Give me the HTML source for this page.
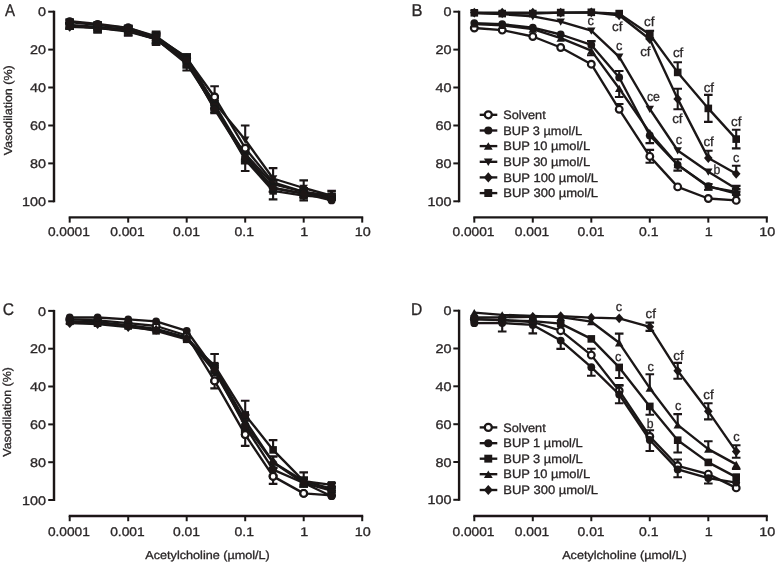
<!DOCTYPE html>
<html><head><meta charset="utf-8"><title>Figure</title>
<style>
html,body{margin:0;padding:0;background:#fff;}
body{width:777px;height:565px;overflow:hidden;font-family:"Liberation Sans",sans-serif;}
svg{display:block;}
svg{text-rendering:geometricPrecision;}
svg text{font-family:"Liberation Sans",sans-serif;fill:#2a2627;stroke:#2a2627;stroke-width:0.3px;}
</style></head><body>
<svg width="777" height="565" viewBox="0 0 777 565">
<defs><filter id="soft" x="0" y="0" width="777" height="565" filterUnits="userSpaceOnUse"><feGaussianBlur stdDeviation="0.55"/></filter></defs>
<rect width="777" height="565" fill="#fff"/>
<g filter="url(#soft)">
<path d="M54.0 10.7V202.3" stroke="#1a1718" stroke-width="2.4" fill="none"/>
<path d="M48.2 11.7H54.0" stroke="#1a1718" stroke-width="2" fill="none"/>
<text x="46.0" y="16.3" text-anchor="end" font-size="12.5" textLength="8.0" lengthAdjust="spacingAndGlyphs">0</text>
<path d="M48.2 49.6H54.0" stroke="#1a1718" stroke-width="2" fill="none"/>
<text x="46.0" y="54.2" text-anchor="end" font-size="12.5" textLength="16.0" lengthAdjust="spacingAndGlyphs">20</text>
<path d="M48.2 87.5H54.0" stroke="#1a1718" stroke-width="2" fill="none"/>
<text x="46.0" y="92.1" text-anchor="end" font-size="12.5" textLength="16.0" lengthAdjust="spacingAndGlyphs">40</text>
<path d="M48.2 125.5H54.0" stroke="#1a1718" stroke-width="2" fill="none"/>
<text x="46.0" y="130.1" text-anchor="end" font-size="12.5" textLength="16.0" lengthAdjust="spacingAndGlyphs">60</text>
<path d="M48.2 163.4H54.0" stroke="#1a1718" stroke-width="2" fill="none"/>
<text x="46.0" y="168.0" text-anchor="end" font-size="12.5" textLength="16.0" lengthAdjust="spacingAndGlyphs">80</text>
<path d="M48.2 201.3H54.0" stroke="#1a1718" stroke-width="2" fill="none"/>
<text x="46.0" y="205.9" text-anchor="end" font-size="12.5" textLength="24.0" lengthAdjust="spacingAndGlyphs">100</text>
<path d="M68.7 217.4H363.2" stroke="#1a1718" stroke-width="2.4" fill="none"/>
<path d="M69.7 217.4V222.6" stroke="#1a1718" stroke-width="2" fill="none"/>
<text x="68.9" y="235.9" text-anchor="middle" font-size="12.5" textLength="42.0" lengthAdjust="spacingAndGlyphs">0.0001</text>
<path d="M128.2 217.4V222.6" stroke="#1a1718" stroke-width="2" fill="none"/>
<text x="127.4" y="235.9" text-anchor="middle" font-size="12.5" textLength="34.5" lengthAdjust="spacingAndGlyphs">0.001</text>
<path d="M186.7 217.4V222.6" stroke="#1a1718" stroke-width="2" fill="none"/>
<text x="186.5" y="235.9" text-anchor="middle" font-size="12.5" textLength="27.0" lengthAdjust="spacingAndGlyphs">0.01</text>
<path d="M245.2 217.4V222.6" stroke="#1a1718" stroke-width="2" fill="none"/>
<text x="244.2" y="235.9" text-anchor="middle" font-size="12.5" textLength="19.5" lengthAdjust="spacingAndGlyphs">0.1</text>
<path d="M303.7 217.4V222.6" stroke="#1a1718" stroke-width="2" fill="none"/>
<text x="304.2" y="235.9" text-anchor="middle" font-size="12.5" textLength="8.0" lengthAdjust="spacingAndGlyphs">1</text>
<path d="M362.2 217.4V222.6" stroke="#1a1718" stroke-width="2" fill="none"/>
<text x="362.7" y="235.9" text-anchor="middle" font-size="12.5" textLength="16.0" lengthAdjust="spacingAndGlyphs">10</text>
<path d="M69.7 20.2V24.0M65.4 20.2H74.0M65.4 24.0H74.0" stroke="#1a1718" stroke-width="2.1" fill="none"/>
<path d="M97.6 23.1V26.9M93.3 23.1H101.9M93.3 26.9H101.9" stroke="#1a1718" stroke-width="2.1" fill="none"/>
<path d="M128.2 25.9V29.7M123.9 25.9H132.5M123.9 29.7H132.5" stroke="#1a1718" stroke-width="2.1" fill="none"/>
<path d="M156.1 32.6V40.1M151.8 32.6H160.4M151.8 40.1H160.4" stroke="#1a1718" stroke-width="2.1" fill="none"/>
<path d="M186.7 54.4V61.9M182.4 54.4H191.0M182.4 61.9H191.0" stroke="#1a1718" stroke-width="2.1" fill="none"/>
<path d="M214.6 86.2V97.0M210.3 86.2H218.9" stroke="#1a1718" stroke-width="2.1" fill="none"/>
<polyline points="69.7,22.1 97.6,25.0 128.2,27.8 156.1,36.3 186.7,58.2 214.6,97.0 245.2,148.2 273.1,182.3 303.7,191.8 331.6,197.5" fill="none" stroke="#1a1718" stroke-width="2.35" stroke-linejoin="round"/>
<circle cx="69.7" cy="22.1" r="3.38" fill="#fff" stroke="#1a1718" stroke-width="2.15"/>
<circle cx="97.6" cy="25.0" r="3.38" fill="#fff" stroke="#1a1718" stroke-width="2.15"/>
<circle cx="128.2" cy="27.8" r="3.38" fill="#fff" stroke="#1a1718" stroke-width="2.15"/>
<circle cx="156.1" cy="36.3" r="3.38" fill="#fff" stroke="#1a1718" stroke-width="2.15"/>
<circle cx="186.7" cy="58.2" r="3.38" fill="#fff" stroke="#1a1718" stroke-width="2.15"/>
<circle cx="214.6" cy="97.0" r="3.38" fill="#fff" stroke="#1a1718" stroke-width="2.15"/>
<circle cx="245.2" cy="148.2" r="3.38" fill="#fff" stroke="#1a1718" stroke-width="2.15"/>
<circle cx="273.1" cy="182.3" r="3.38" fill="#fff" stroke="#1a1718" stroke-width="2.15"/>
<circle cx="303.7" cy="191.8" r="3.38" fill="#fff" stroke="#1a1718" stroke-width="2.15"/>
<circle cx="331.6" cy="197.5" r="3.38" fill="#fff" stroke="#1a1718" stroke-width="2.15"/>
<path d="M69.7 23.1V28.8M65.4 23.1H74.0M65.4 28.8H74.0" stroke="#1a1718" stroke-width="2.1" fill="none"/>
<path d="M97.6 24.0V31.6M93.3 24.0H101.9M93.3 31.6H101.9" stroke="#1a1718" stroke-width="2.1" fill="none"/>
<path d="M128.2 27.8V35.4M123.9 27.8H132.5M123.9 35.4H132.5" stroke="#1a1718" stroke-width="2.1" fill="none"/>
<path d="M156.1 34.5V43.9M151.8 34.5H160.4M151.8 43.9H160.4" stroke="#1a1718" stroke-width="2.1" fill="none"/>
<path d="M186.7 56.3V67.6M182.4 56.3H191.0M182.4 67.6H191.0" stroke="#1a1718" stroke-width="2.1" fill="none"/>
<path d="M214.6 97.0V108.4M210.3 97.0H218.9M210.3 108.4H218.9" stroke="#1a1718" stroke-width="2.1" fill="none"/>
<path d="M245.2 125.5V139.7M240.9 125.5H249.5" stroke="#1a1718" stroke-width="2.1" fill="none"/>
<path d="M273.1 168.1V178.5M268.8 168.1H277.4" stroke="#1a1718" stroke-width="2.1" fill="none"/>
<path d="M303.7 180.4V188.0M299.4 180.4H308.0" stroke="#1a1718" stroke-width="2.1" fill="none"/>
<path d="M331.6 190.9V195.6M327.3 190.9H335.9" stroke="#1a1718" stroke-width="2.1" fill="none"/>
<polyline points="69.7,25.9 97.6,27.8 128.2,31.6 156.1,39.2 186.7,61.9 214.6,102.7 245.2,139.7 273.1,178.5 303.7,188.0 331.6,195.6" fill="none" stroke="#1a1718" stroke-width="2.35" stroke-linejoin="round"/>
<path d="M69.7 30.0L73.9 22.7L65.5 22.7Z" fill="#1a1718"/>
<path d="M97.6 31.9L101.8 24.6L93.4 24.6Z" fill="#1a1718"/>
<path d="M128.2 35.7L132.4 28.4L124.0 28.4Z" fill="#1a1718"/>
<path d="M156.1 43.3L160.3 36.0L151.9 36.0Z" fill="#1a1718"/>
<path d="M186.7 66.0L190.9 58.7L182.5 58.7Z" fill="#1a1718"/>
<path d="M214.6 106.8L218.8 99.5L210.4 99.5Z" fill="#1a1718"/>
<path d="M245.2 143.8L249.4 136.5L241.0 136.5Z" fill="#1a1718"/>
<path d="M273.1 182.6L277.3 175.3L268.9 175.3Z" fill="#1a1718"/>
<path d="M303.7 192.1L307.9 184.8L299.5 184.8Z" fill="#1a1718"/>
<path d="M331.6 199.7L335.8 192.4L327.4 192.4Z" fill="#1a1718"/>
<path d="M69.7 23.1V26.9M65.4 23.1H74.0M65.4 26.9H74.0" stroke="#1a1718" stroke-width="2.1" fill="none"/>
<path d="M97.6 24.0V29.7M93.3 24.0H101.9M93.3 29.7H101.9" stroke="#1a1718" stroke-width="2.1" fill="none"/>
<path d="M128.2 26.9V32.6M123.9 26.9H132.5M123.9 32.6H132.5" stroke="#1a1718" stroke-width="2.1" fill="none"/>
<path d="M156.1 31.6V43.0M151.8 31.6H160.4M151.8 43.0H160.4" stroke="#1a1718" stroke-width="2.1" fill="none"/>
<path d="M186.7 54.4V60.0M182.4 54.4H191.0M182.4 60.0H191.0" stroke="#1a1718" stroke-width="2.1" fill="none"/>
<path d="M214.6 100.8V108.4M210.3 100.8H218.9M210.3 108.4H218.9" stroke="#1a1718" stroke-width="2.1" fill="none"/>
<path d="M245.2 150.1V161.5M240.9 150.1H249.5M240.9 161.5H249.5" stroke="#1a1718" stroke-width="2.1" fill="none"/>
<path d="M273.1 184.2V191.8M268.8 184.2H277.4M268.8 191.8H277.4" stroke="#1a1718" stroke-width="2.1" fill="none"/>
<path d="M303.7 189.9V197.5M299.4 189.9H308.0M299.4 197.5H308.0" stroke="#1a1718" stroke-width="2.1" fill="none"/>
<path d="M331.6 195.6V199.4M327.3 195.6H335.9M327.3 199.4H335.9" stroke="#1a1718" stroke-width="2.1" fill="none"/>
<polyline points="69.7,25.0 97.6,26.9 128.2,29.7 156.1,37.3 186.7,57.2 214.6,104.6 245.2,155.8 273.1,188.0 303.7,193.7 331.6,197.5" fill="none" stroke="#1a1718" stroke-width="2.35" stroke-linejoin="round"/>
<path d="M69.7 21.3L73.9 28.6L65.5 28.6Z" fill="#1a1718"/>
<path d="M97.6 23.2L101.8 30.5L93.4 30.5Z" fill="#1a1718"/>
<path d="M128.2 26.0L132.4 33.3L124.0 33.3Z" fill="#1a1718"/>
<path d="M156.1 33.6L160.3 40.9L151.9 40.9Z" fill="#1a1718"/>
<path d="M186.7 53.5L190.9 60.8L182.5 60.8Z" fill="#1a1718"/>
<path d="M214.6 100.9L218.8 108.2L210.4 108.2Z" fill="#1a1718"/>
<path d="M245.2 152.1L249.4 159.4L241.0 159.4Z" fill="#1a1718"/>
<path d="M273.1 184.3L277.3 191.6L268.9 191.6Z" fill="#1a1718"/>
<path d="M303.7 190.0L307.9 197.3L299.5 197.3Z" fill="#1a1718"/>
<path d="M331.6 193.8L335.8 201.1L327.4 201.1Z" fill="#1a1718"/>
<path d="M69.7 25.0V28.8M65.4 25.0H74.0M65.4 28.8H74.0" stroke="#1a1718" stroke-width="2.1" fill="none"/>
<path d="M97.6 25.9V29.7M93.3 25.9H101.9M93.3 29.7H101.9" stroke="#1a1718" stroke-width="2.1" fill="none"/>
<path d="M128.2 28.8V32.6M123.9 28.8H132.5M123.9 32.6H132.5" stroke="#1a1718" stroke-width="2.1" fill="none"/>
<path d="M156.1 35.4V43.0M151.8 35.4H160.4M151.8 43.0H160.4" stroke="#1a1718" stroke-width="2.1" fill="none"/>
<path d="M186.7 58.2V65.7M182.4 58.2H191.0M182.4 65.7H191.0" stroke="#1a1718" stroke-width="2.1" fill="none"/>
<path d="M214.6 104.6V112.2M210.3 104.6H218.9M210.3 112.2H218.9" stroke="#1a1718" stroke-width="2.1" fill="none"/>
<path d="M245.2 148.2V159.6M240.9 148.2H249.5M240.9 159.6H249.5" stroke="#1a1718" stroke-width="2.1" fill="none"/>
<path d="M273.1 180.4V188.0M268.8 180.4H277.4M268.8 188.0H277.4" stroke="#1a1718" stroke-width="2.1" fill="none"/>
<path d="M303.7 188.0V195.6M299.4 188.0H308.0M299.4 195.6H308.0" stroke="#1a1718" stroke-width="2.1" fill="none"/>
<path d="M331.6 193.7V197.5M327.3 193.7H335.9M327.3 197.5H335.9" stroke="#1a1718" stroke-width="2.1" fill="none"/>
<polyline points="69.7,26.9 97.6,27.8 128.2,30.7 156.1,39.2 186.7,61.9 214.6,108.4 245.2,153.9 273.1,184.2 303.7,191.8 331.6,195.6" fill="none" stroke="#1a1718" stroke-width="2.35" stroke-linejoin="round"/>
<path d="M69.7 22.0L74.0 26.9L69.7 31.8L65.4 26.9Z" fill="#1a1718"/>
<path d="M97.6 22.9L101.9 27.8L97.6 32.7L93.3 27.8Z" fill="#1a1718"/>
<path d="M128.2 25.8L132.5 30.7L128.2 35.6L123.9 30.7Z" fill="#1a1718"/>
<path d="M156.1 34.3L160.4 39.2L156.1 44.1L151.8 39.2Z" fill="#1a1718"/>
<path d="M186.7 57.0L191.0 61.9L186.7 66.8L182.4 61.9Z" fill="#1a1718"/>
<path d="M214.6 103.5L218.9 108.4L214.6 113.3L210.3 108.4Z" fill="#1a1718"/>
<path d="M245.2 149.0L249.5 153.9L245.2 158.8L240.9 153.9Z" fill="#1a1718"/>
<path d="M273.1 179.3L277.4 184.2L273.1 189.1L268.8 184.2Z" fill="#1a1718"/>
<path d="M303.7 186.9L308.0 191.8L303.7 196.7L299.4 191.8Z" fill="#1a1718"/>
<path d="M331.6 190.7L335.9 195.6L331.6 200.5L327.3 195.6Z" fill="#1a1718"/>
<path d="M69.7 23.1V28.8M65.4 23.1H74.0M65.4 28.8H74.0" stroke="#1a1718" stroke-width="2.1" fill="none"/>
<path d="M97.6 23.1V32.6M93.3 23.1H101.9M93.3 32.6H101.9" stroke="#1a1718" stroke-width="2.1" fill="none"/>
<path d="M128.2 25.9V35.4M123.9 25.9H132.5M123.9 35.4H132.5" stroke="#1a1718" stroke-width="2.1" fill="none"/>
<path d="M156.1 33.5V44.9M151.8 33.5H160.4M151.8 44.9H160.4" stroke="#1a1718" stroke-width="2.1" fill="none"/>
<path d="M186.7 57.2V70.5M182.4 57.2H191.0M182.4 70.5H191.0" stroke="#1a1718" stroke-width="2.1" fill="none"/>
<path d="M214.6 102.7V110.3M210.3 102.7H218.9M210.3 110.3H218.9" stroke="#1a1718" stroke-width="2.1" fill="none"/>
<path d="M245.2 159.6V171.0M240.9 171.0H249.5" stroke="#1a1718" stroke-width="2.1" fill="none"/>
<path d="M273.1 190.9V199.4M268.8 199.4H277.4" stroke="#1a1718" stroke-width="2.1" fill="none"/>
<path d="M303.7 195.6V200.4M299.4 200.4H308.0" stroke="#1a1718" stroke-width="2.1" fill="none"/>
<path d="M331.6 195.6V199.4M327.3 195.6H335.9M327.3 199.4H335.9" stroke="#1a1718" stroke-width="2.1" fill="none"/>
<polyline points="69.7,25.9 97.6,27.8 128.2,30.7 156.1,39.2 186.7,63.8 214.6,106.5 245.2,159.6 273.1,190.9 303.7,195.6 331.6,197.5" fill="none" stroke="#1a1718" stroke-width="2.35" stroke-linejoin="round"/>
<rect x="65.9" y="22.1" width="7.6" height="7.6" fill="#1a1718"/>
<rect x="93.8" y="24.0" width="7.6" height="7.6" fill="#1a1718"/>
<rect x="124.4" y="26.9" width="7.6" height="7.6" fill="#1a1718"/>
<rect x="152.3" y="35.4" width="7.6" height="7.6" fill="#1a1718"/>
<rect x="182.9" y="60.0" width="7.6" height="7.6" fill="#1a1718"/>
<rect x="210.8" y="102.7" width="7.6" height="7.6" fill="#1a1718"/>
<rect x="241.4" y="155.8" width="7.6" height="7.6" fill="#1a1718"/>
<rect x="269.3" y="187.1" width="7.6" height="7.6" fill="#1a1718"/>
<rect x="299.9" y="191.8" width="7.6" height="7.6" fill="#1a1718"/>
<rect x="327.8" y="193.7" width="7.6" height="7.6" fill="#1a1718"/>
<path d="M69.7 19.3V23.1M65.4 19.3H74.0M65.4 23.1H74.0" stroke="#1a1718" stroke-width="2.1" fill="none"/>
<path d="M97.6 22.1V25.9M93.3 22.1H101.9M93.3 25.9H101.9" stroke="#1a1718" stroke-width="2.1" fill="none"/>
<path d="M128.2 25.9V29.7M123.9 25.9H132.5M123.9 29.7H132.5" stroke="#1a1718" stroke-width="2.1" fill="none"/>
<path d="M156.1 33.5V41.1M151.8 33.5H160.4M151.8 41.1H160.4" stroke="#1a1718" stroke-width="2.1" fill="none"/>
<path d="M186.7 56.3V63.8M182.4 56.3H191.0M182.4 63.8H191.0" stroke="#1a1718" stroke-width="2.1" fill="none"/>
<path d="M214.6 105.6V113.1M210.3 105.6H218.9M210.3 113.1H218.9" stroke="#1a1718" stroke-width="2.1" fill="none"/>
<path d="M245.2 152.0V163.4M240.9 152.0H249.5M240.9 163.4H249.5" stroke="#1a1718" stroke-width="2.1" fill="none"/>
<path d="M273.1 184.2V191.8M268.8 184.2H277.4M268.8 191.8H277.4" stroke="#1a1718" stroke-width="2.1" fill="none"/>
<path d="M303.7 189.9V197.5M299.4 189.9H308.0M299.4 197.5H308.0" stroke="#1a1718" stroke-width="2.1" fill="none"/>
<polyline points="69.7,21.2 97.6,24.0 128.2,27.8 156.1,37.3 186.7,60.0 214.6,109.3 245.2,157.7 273.1,188.0 303.7,193.7 331.6,200.4" fill="none" stroke="#1a1718" stroke-width="2.35" stroke-linejoin="round"/>
<circle cx="69.7" cy="21.2" r="3.90" fill="#1a1718"/>
<circle cx="97.6" cy="24.0" r="3.90" fill="#1a1718"/>
<circle cx="128.2" cy="27.8" r="3.90" fill="#1a1718"/>
<circle cx="156.1" cy="37.3" r="3.90" fill="#1a1718"/>
<circle cx="186.7" cy="60.0" r="3.90" fill="#1a1718"/>
<circle cx="214.6" cy="109.3" r="3.90" fill="#1a1718"/>
<circle cx="245.2" cy="157.7" r="3.90" fill="#1a1718"/>
<circle cx="273.1" cy="188.0" r="3.90" fill="#1a1718"/>
<circle cx="303.7" cy="193.7" r="3.90" fill="#1a1718"/>
<circle cx="331.6" cy="200.4" r="3.90" fill="#1a1718"/>
<circle cx="214.6" cy="97.0" r="3.38" fill="#fff" stroke="#1a1718" stroke-width="2.15"/>
<circle cx="245.2" cy="148.2" r="3.38" fill="#fff" stroke="#1a1718" stroke-width="2.15"/>
<path d="M459.1 10.7V202.3" stroke="#1a1718" stroke-width="2.4" fill="none"/>
<path d="M453.3 11.7H459.1" stroke="#1a1718" stroke-width="2" fill="none"/>
<text x="451.4" y="16.3" text-anchor="end" font-size="12.5" textLength="8.0" lengthAdjust="spacingAndGlyphs">0</text>
<path d="M453.3 49.6H459.1" stroke="#1a1718" stroke-width="2" fill="none"/>
<text x="451.4" y="54.2" text-anchor="end" font-size="12.5" textLength="16.0" lengthAdjust="spacingAndGlyphs">20</text>
<path d="M453.3 87.5H459.1" stroke="#1a1718" stroke-width="2" fill="none"/>
<text x="451.4" y="92.1" text-anchor="end" font-size="12.5" textLength="16.0" lengthAdjust="spacingAndGlyphs">40</text>
<path d="M453.3 125.5H459.1" stroke="#1a1718" stroke-width="2" fill="none"/>
<text x="451.4" y="130.1" text-anchor="end" font-size="12.5" textLength="16.0" lengthAdjust="spacingAndGlyphs">60</text>
<path d="M453.3 163.4H459.1" stroke="#1a1718" stroke-width="2" fill="none"/>
<text x="451.4" y="168.0" text-anchor="end" font-size="12.5" textLength="16.0" lengthAdjust="spacingAndGlyphs">80</text>
<path d="M453.3 201.3H459.1" stroke="#1a1718" stroke-width="2" fill="none"/>
<text x="451.4" y="205.9" text-anchor="end" font-size="12.5" textLength="24.0" lengthAdjust="spacingAndGlyphs">100</text>
<path d="M473.3 217.4H767.8" stroke="#1a1718" stroke-width="2.4" fill="none"/>
<path d="M474.3 217.4V222.6" stroke="#1a1718" stroke-width="2" fill="none"/>
<text x="473.5" y="235.9" text-anchor="middle" font-size="12.5" textLength="42.0" lengthAdjust="spacingAndGlyphs">0.0001</text>
<path d="M532.8 217.4V222.6" stroke="#1a1718" stroke-width="2" fill="none"/>
<text x="532.0" y="235.9" text-anchor="middle" font-size="12.5" textLength="34.5" lengthAdjust="spacingAndGlyphs">0.001</text>
<path d="M591.3 217.4V222.6" stroke="#1a1718" stroke-width="2" fill="none"/>
<text x="591.1" y="235.9" text-anchor="middle" font-size="12.5" textLength="27.0" lengthAdjust="spacingAndGlyphs">0.01</text>
<path d="M649.8 217.4V222.6" stroke="#1a1718" stroke-width="2" fill="none"/>
<text x="648.8" y="235.9" text-anchor="middle" font-size="12.5" textLength="19.5" lengthAdjust="spacingAndGlyphs">0.1</text>
<path d="M708.3 217.4V222.6" stroke="#1a1718" stroke-width="2" fill="none"/>
<text x="708.8" y="235.9" text-anchor="middle" font-size="12.5" textLength="8.0" lengthAdjust="spacingAndGlyphs">1</text>
<path d="M766.8 217.4V222.6" stroke="#1a1718" stroke-width="2" fill="none"/>
<text x="767.3" y="235.9" text-anchor="middle" font-size="12.5" textLength="16.0" lengthAdjust="spacingAndGlyphs">10</text>
<path d="M619.2 104.0V109.3M614.9 104.0H623.5" stroke="#1a1718" stroke-width="2.1" fill="none"/>
<path d="M649.8 149.9V162.8M645.5 149.9H654.1M645.5 162.8H654.1" stroke="#1a1718" stroke-width="2.1" fill="none"/>
<polyline points="474.3,28.0 502.2,30.1 532.8,36.5 560.7,47.5 591.3,64.2 619.2,109.3 649.8,156.4 677.7,186.9 708.3,198.5 736.2,200.4" fill="none" stroke="#1a1718" stroke-width="2.35" stroke-linejoin="round"/>
<circle cx="474.3" cy="28.0" r="3.38" fill="#fff" stroke="#1a1718" stroke-width="2.15"/>
<circle cx="502.2" cy="30.1" r="3.38" fill="#fff" stroke="#1a1718" stroke-width="2.15"/>
<circle cx="532.8" cy="36.5" r="3.38" fill="#fff" stroke="#1a1718" stroke-width="2.15"/>
<circle cx="560.7" cy="47.5" r="3.38" fill="#fff" stroke="#1a1718" stroke-width="2.15"/>
<circle cx="591.3" cy="64.2" r="3.38" fill="#fff" stroke="#1a1718" stroke-width="2.15"/>
<circle cx="619.2" cy="109.3" r="3.38" fill="#fff" stroke="#1a1718" stroke-width="2.15"/>
<circle cx="649.8" cy="156.4" r="3.38" fill="#fff" stroke="#1a1718" stroke-width="2.15"/>
<circle cx="677.7" cy="186.9" r="3.38" fill="#fff" stroke="#1a1718" stroke-width="2.15"/>
<circle cx="708.3" cy="198.5" r="3.38" fill="#fff" stroke="#1a1718" stroke-width="2.15"/>
<circle cx="736.2" cy="200.4" r="3.38" fill="#fff" stroke="#1a1718" stroke-width="2.15"/>
<path d="M591.3 41.1V44.9M587.0 41.1H595.6" stroke="#1a1718" stroke-width="2.1" fill="none"/>
<path d="M619.2 71.0V77.5M614.9 71.0H623.5" stroke="#1a1718" stroke-width="2.1" fill="none"/>
<path d="M649.8 135.5V143.1M645.5 143.1H654.1" stroke="#1a1718" stroke-width="2.1" fill="none"/>
<path d="M677.7 159.2V170.6M673.4 159.2H682.0M673.4 170.6H682.0" stroke="#1a1718" stroke-width="2.1" fill="none"/>
<polyline points="474.3,23.1 502.2,24.2 532.8,27.6 560.7,34.5 591.3,44.9 619.2,77.5 649.8,135.5 677.7,164.9 708.3,186.1 736.2,193.7" fill="none" stroke="#1a1718" stroke-width="2.35" stroke-linejoin="round"/>
<circle cx="474.3" cy="23.1" r="3.90" fill="#1a1718"/>
<circle cx="502.2" cy="24.2" r="3.90" fill="#1a1718"/>
<circle cx="532.8" cy="27.6" r="3.90" fill="#1a1718"/>
<circle cx="560.7" cy="34.5" r="3.90" fill="#1a1718"/>
<circle cx="591.3" cy="44.9" r="3.90" fill="#1a1718"/>
<circle cx="619.2" cy="77.5" r="3.90" fill="#1a1718"/>
<circle cx="649.8" cy="135.5" r="3.90" fill="#1a1718"/>
<circle cx="677.7" cy="164.9" r="3.90" fill="#1a1718"/>
<circle cx="708.3" cy="186.1" r="3.90" fill="#1a1718"/>
<circle cx="736.2" cy="193.7" r="3.90" fill="#1a1718"/>
<path d="M591.3 50.6V55.3M587.0 55.3H595.6" stroke="#1a1718" stroke-width="2.1" fill="none"/>
<path d="M619.2 88.5V97.0M614.9 97.0H623.5" stroke="#1a1718" stroke-width="2.1" fill="none"/>
<path d="M708.3 184.0V189.7M704.0 184.0H712.6M704.0 189.7H712.6" stroke="#1a1718" stroke-width="2.1" fill="none"/>
<path d="M736.2 189.0V194.7M731.9 189.0H740.5M731.9 194.7H740.5" stroke="#1a1718" stroke-width="2.1" fill="none"/>
<polyline points="474.3,24.0 502.2,25.4 532.8,29.1 560.7,38.2 591.3,50.6 619.2,88.5 649.8,132.7 677.7,164.7 708.3,186.9 736.2,191.8" fill="none" stroke="#1a1718" stroke-width="2.35" stroke-linejoin="round"/>
<path d="M474.3 20.3L478.5 27.6L470.1 27.6Z" fill="#1a1718"/>
<path d="M502.2 21.7L506.4 29.0L498.0 29.0Z" fill="#1a1718"/>
<path d="M532.8 25.4L537.0 32.7L528.6 32.7Z" fill="#1a1718"/>
<path d="M560.7 34.5L564.9 41.8L556.5 41.8Z" fill="#1a1718"/>
<path d="M591.3 46.9L595.5 54.2L587.1 54.2Z" fill="#1a1718"/>
<path d="M619.2 84.8L623.4 92.1L615.0 92.1Z" fill="#1a1718"/>
<path d="M649.8 129.0L654.0 136.3L645.6 136.3Z" fill="#1a1718"/>
<path d="M677.7 161.0L681.9 168.3L673.5 168.3Z" fill="#1a1718"/>
<path d="M708.3 183.2L712.5 190.5L704.1 190.5Z" fill="#1a1718"/>
<path d="M736.2 188.1L740.4 195.4L732.0 195.4Z" fill="#1a1718"/>
<path d="M736.2 185.9V191.6M731.9 185.9H740.5M731.9 191.6H740.5" stroke="#1a1718" stroke-width="2.1" fill="none"/>
<polyline points="474.3,13.2 502.2,14.2 532.8,16.3 560.7,21.6 591.3,30.7 619.2,56.8 649.8,109.0 677.7,150.5 708.3,171.7 736.2,188.8" fill="none" stroke="#1a1718" stroke-width="2.35" stroke-linejoin="round"/>
<path d="M474.3 17.3L478.5 10.0L470.1 10.0Z" fill="#1a1718"/>
<path d="M502.2 18.3L506.4 11.0L498.0 11.0Z" fill="#1a1718"/>
<path d="M532.8 20.4L537.0 13.1L528.6 13.1Z" fill="#1a1718"/>
<path d="M560.7 25.7L564.9 18.4L556.5 18.4Z" fill="#1a1718"/>
<path d="M591.3 34.8L595.5 27.5L587.1 27.5Z" fill="#1a1718"/>
<path d="M619.2 60.9L623.4 53.6L615.0 53.6Z" fill="#1a1718"/>
<path d="M649.8 113.1L654.0 105.8L645.6 105.8Z" fill="#1a1718"/>
<path d="M677.7 154.6L681.9 147.3L673.5 147.3Z" fill="#1a1718"/>
<path d="M708.3 175.8L712.5 168.5L704.1 168.5Z" fill="#1a1718"/>
<path d="M736.2 192.9L740.4 185.6L732.0 185.6Z" fill="#1a1718"/>
<path d="M677.7 88.7V109.2M673.4 88.7H682.0M673.4 109.2H682.0" stroke="#1a1718" stroke-width="2.1" fill="none"/>
<path d="M708.3 150.7V158.1M704.0 150.7H712.6" stroke="#1a1718" stroke-width="2.1" fill="none"/>
<path d="M736.2 165.7V173.8M731.9 165.7H740.5" stroke="#1a1718" stroke-width="2.1" fill="none"/>
<polyline points="474.3,12.6 502.2,12.6 532.8,12.6 560.7,12.6 591.3,12.3 619.2,15.3 649.8,39.2 677.7,98.9 708.3,158.1 736.2,173.8" fill="none" stroke="#1a1718" stroke-width="2.35" stroke-linejoin="round"/>
<path d="M474.3 7.7L478.6 12.6L474.3 17.5L470.0 12.6Z" fill="#1a1718"/>
<path d="M502.2 7.7L506.5 12.6L502.2 17.5L497.9 12.6Z" fill="#1a1718"/>
<path d="M532.8 7.7L537.1 12.6L532.8 17.5L528.5 12.6Z" fill="#1a1718"/>
<path d="M560.7 7.7L565.0 12.6L560.7 17.5L556.4 12.6Z" fill="#1a1718"/>
<path d="M591.3 7.4L595.6 12.3L591.3 17.2L587.0 12.3Z" fill="#1a1718"/>
<path d="M619.2 10.4L623.5 15.3L619.2 20.2L614.9 15.3Z" fill="#1a1718"/>
<path d="M649.8 34.3L654.1 39.2L649.8 44.1L645.5 39.2Z" fill="#1a1718"/>
<path d="M677.7 94.0L682.0 98.9L677.7 103.8L673.4 98.9Z" fill="#1a1718"/>
<path d="M708.3 153.2L712.6 158.1L708.3 163.0L704.0 158.1Z" fill="#1a1718"/>
<path d="M736.2 168.9L740.5 173.8L736.2 178.7L731.9 173.8Z" fill="#1a1718"/>
<path d="M649.8 30.7V38.2M645.5 30.7H654.1M645.5 38.2H654.1" stroke="#1a1718" stroke-width="2.1" fill="none"/>
<path d="M677.7 62.3V72.4M673.4 62.3H682.0" stroke="#1a1718" stroke-width="2.1" fill="none"/>
<path d="M708.3 94.9V121.9M704.0 94.9H712.6M704.0 121.9H712.6" stroke="#1a1718" stroke-width="2.1" fill="none"/>
<path d="M736.2 129.8V148.4M731.9 129.8H740.5M731.9 148.4H740.5" stroke="#1a1718" stroke-width="2.1" fill="none"/>
<polyline points="474.3,12.8 502.2,13.6 532.8,13.6 560.7,12.6 591.3,12.3 619.2,13.6 649.8,34.5 677.7,72.4 708.3,108.4 736.2,139.1" fill="none" stroke="#1a1718" stroke-width="2.35" stroke-linejoin="round"/>
<rect x="470.5" y="9.0" width="7.6" height="7.6" fill="#1a1718"/>
<rect x="498.4" y="9.8" width="7.6" height="7.6" fill="#1a1718"/>
<rect x="529.0" y="9.8" width="7.6" height="7.6" fill="#1a1718"/>
<rect x="556.9" y="8.8" width="7.6" height="7.6" fill="#1a1718"/>
<rect x="587.5" y="8.5" width="7.6" height="7.6" fill="#1a1718"/>
<rect x="615.4" y="9.8" width="7.6" height="7.6" fill="#1a1718"/>
<rect x="646.0" y="30.7" width="7.6" height="7.6" fill="#1a1718"/>
<rect x="673.9" y="68.6" width="7.6" height="7.6" fill="#1a1718"/>
<rect x="704.5" y="104.6" width="7.6" height="7.6" fill="#1a1718"/>
<rect x="732.4" y="135.3" width="7.6" height="7.6" fill="#1a1718"/>
<path d="M54.0 309.9V501.0" stroke="#1a1718" stroke-width="2.4" fill="none"/>
<path d="M48.2 310.9H54.0" stroke="#1a1718" stroke-width="2" fill="none"/>
<text x="46.0" y="315.5" text-anchor="end" font-size="12.5" textLength="8.0" lengthAdjust="spacingAndGlyphs">0</text>
<path d="M48.2 348.7H54.0" stroke="#1a1718" stroke-width="2" fill="none"/>
<text x="46.0" y="353.3" text-anchor="end" font-size="12.5" textLength="16.0" lengthAdjust="spacingAndGlyphs">20</text>
<path d="M48.2 386.5H54.0" stroke="#1a1718" stroke-width="2" fill="none"/>
<text x="46.0" y="391.1" text-anchor="end" font-size="12.5" textLength="16.0" lengthAdjust="spacingAndGlyphs">40</text>
<path d="M48.2 424.4H54.0" stroke="#1a1718" stroke-width="2" fill="none"/>
<text x="46.0" y="429.0" text-anchor="end" font-size="12.5" textLength="16.0" lengthAdjust="spacingAndGlyphs">60</text>
<path d="M48.2 462.2H54.0" stroke="#1a1718" stroke-width="2" fill="none"/>
<text x="46.0" y="466.8" text-anchor="end" font-size="12.5" textLength="16.0" lengthAdjust="spacingAndGlyphs">80</text>
<path d="M48.2 500.0H54.0" stroke="#1a1718" stroke-width="2" fill="none"/>
<text x="46.0" y="504.6" text-anchor="end" font-size="12.5" textLength="24.0" lengthAdjust="spacingAndGlyphs">100</text>
<path d="M68.7 516.0H363.2" stroke="#1a1718" stroke-width="2.4" fill="none"/>
<path d="M69.7 516.0V521.2" stroke="#1a1718" stroke-width="2" fill="none"/>
<text x="68.9" y="535.9" text-anchor="middle" font-size="12.5" textLength="42.0" lengthAdjust="spacingAndGlyphs">0.0001</text>
<path d="M128.2 516.0V521.2" stroke="#1a1718" stroke-width="2" fill="none"/>
<text x="127.4" y="535.9" text-anchor="middle" font-size="12.5" textLength="34.5" lengthAdjust="spacingAndGlyphs">0.001</text>
<path d="M186.7 516.0V521.2" stroke="#1a1718" stroke-width="2" fill="none"/>
<text x="186.5" y="535.9" text-anchor="middle" font-size="12.5" textLength="27.0" lengthAdjust="spacingAndGlyphs">0.01</text>
<path d="M245.2 516.0V521.2" stroke="#1a1718" stroke-width="2" fill="none"/>
<text x="244.2" y="535.9" text-anchor="middle" font-size="12.5" textLength="19.5" lengthAdjust="spacingAndGlyphs">0.1</text>
<path d="M303.7 516.0V521.2" stroke="#1a1718" stroke-width="2" fill="none"/>
<text x="304.2" y="535.9" text-anchor="middle" font-size="12.5" textLength="8.0" lengthAdjust="spacingAndGlyphs">1</text>
<path d="M362.2 516.0V521.2" stroke="#1a1718" stroke-width="2" fill="none"/>
<text x="362.7" y="535.9" text-anchor="middle" font-size="12.5" textLength="16.0" lengthAdjust="spacingAndGlyphs">10</text>
<path d="M214.6 380.9V388.4M210.3 388.4H218.9" stroke="#1a1718" stroke-width="2.1" fill="none"/>
<path d="M245.2 434.6V445.9M240.9 445.9H249.5" stroke="#1a1718" stroke-width="2.1" fill="none"/>
<path d="M273.1 476.4V483.9M268.8 483.9H277.4" stroke="#1a1718" stroke-width="2.1" fill="none"/>
<polyline points="69.7,319.4 97.6,320.4 128.2,323.2 156.1,326.0 186.7,335.5 214.6,380.9 245.2,434.6 273.1,476.4 303.7,493.4 331.6,495.3" fill="none" stroke="#1a1718" stroke-width="2.35" stroke-linejoin="round"/>
<circle cx="69.7" cy="319.4" r="3.38" fill="#fff" stroke="#1a1718" stroke-width="2.15"/>
<circle cx="97.6" cy="320.4" r="3.38" fill="#fff" stroke="#1a1718" stroke-width="2.15"/>
<circle cx="128.2" cy="323.2" r="3.38" fill="#fff" stroke="#1a1718" stroke-width="2.15"/>
<circle cx="156.1" cy="326.0" r="3.38" fill="#fff" stroke="#1a1718" stroke-width="2.15"/>
<circle cx="186.7" cy="335.5" r="3.38" fill="#fff" stroke="#1a1718" stroke-width="2.15"/>
<circle cx="214.6" cy="380.9" r="3.38" fill="#fff" stroke="#1a1718" stroke-width="2.15"/>
<circle cx="245.2" cy="434.6" r="3.38" fill="#fff" stroke="#1a1718" stroke-width="2.15"/>
<circle cx="273.1" cy="476.4" r="3.38" fill="#fff" stroke="#1a1718" stroke-width="2.15"/>
<circle cx="303.7" cy="493.4" r="3.38" fill="#fff" stroke="#1a1718" stroke-width="2.15"/>
<circle cx="331.6" cy="495.3" r="3.38" fill="#fff" stroke="#1a1718" stroke-width="2.15"/>
<path d="M214.6 363.8V371.4M210.3 363.8H218.9M210.3 371.4H218.9" stroke="#1a1718" stroke-width="2.1" fill="none"/>
<path d="M245.2 414.9V426.3M240.9 414.9H249.5M240.9 426.3H249.5" stroke="#1a1718" stroke-width="2.1" fill="none"/>
<path d="M273.1 456.5V467.9M268.8 456.5H277.4M268.8 467.9H277.4" stroke="#1a1718" stroke-width="2.1" fill="none"/>
<path d="M303.7 477.3V484.9M299.4 477.3H308.0M299.4 484.9H308.0" stroke="#1a1718" stroke-width="2.1" fill="none"/>
<path d="M331.6 486.8V490.5M327.3 486.8H335.9M327.3 490.5H335.9" stroke="#1a1718" stroke-width="2.1" fill="none"/>
<polyline points="69.7,321.3 97.6,322.2 128.2,325.1 156.1,328.9 186.7,337.4 214.6,367.6 245.2,420.6 273.1,462.2 303.7,481.1 331.6,488.7" fill="none" stroke="#1a1718" stroke-width="2.35" stroke-linejoin="round"/>
<path d="M69.7 317.6L73.9 324.9L65.5 324.9Z" fill="#1a1718"/>
<path d="M97.6 318.5L101.8 325.8L93.4 325.8Z" fill="#1a1718"/>
<path d="M128.2 321.4L132.4 328.7L124.0 328.7Z" fill="#1a1718"/>
<path d="M156.1 325.2L160.3 332.5L151.9 332.5Z" fill="#1a1718"/>
<path d="M186.7 333.7L190.9 341.0L182.5 341.0Z" fill="#1a1718"/>
<path d="M214.6 363.9L218.8 371.2L210.4 371.2Z" fill="#1a1718"/>
<path d="M245.2 416.9L249.4 424.2L241.0 424.2Z" fill="#1a1718"/>
<path d="M273.1 458.5L277.3 465.8L268.9 465.8Z" fill="#1a1718"/>
<path d="M303.7 477.4L307.9 484.7L299.5 484.7Z" fill="#1a1718"/>
<path d="M331.6 485.0L335.8 492.3L327.4 492.3Z" fill="#1a1718"/>
<path d="M214.6 367.6V375.2M210.3 367.6H218.9M210.3 375.2H218.9" stroke="#1a1718" stroke-width="2.1" fill="none"/>
<path d="M245.2 418.7V430.0M240.9 418.7H249.5M240.9 430.0H249.5" stroke="#1a1718" stroke-width="2.1" fill="none"/>
<path d="M273.1 456.5V467.9M268.8 456.5H277.4M268.8 467.9H277.4" stroke="#1a1718" stroke-width="2.1" fill="none"/>
<path d="M303.7 479.2V486.8M299.4 479.2H308.0M299.4 486.8H308.0" stroke="#1a1718" stroke-width="2.1" fill="none"/>
<path d="M331.6 488.7V492.4M327.3 488.7H335.9M327.3 492.4H335.9" stroke="#1a1718" stroke-width="2.1" fill="none"/>
<polyline points="69.7,323.2 97.6,324.1 128.2,327.0 156.1,329.8 186.7,338.3 214.6,371.4 245.2,424.4 273.1,462.2 303.7,483.0 331.6,490.5" fill="none" stroke="#1a1718" stroke-width="2.35" stroke-linejoin="round"/>
<path d="M69.7 318.3L74.0 323.2L69.7 328.1L65.4 323.2Z" fill="#1a1718"/>
<path d="M97.6 319.2L101.9 324.1L97.6 329.0L93.3 324.1Z" fill="#1a1718"/>
<path d="M128.2 322.1L132.5 327.0L128.2 331.9L123.9 327.0Z" fill="#1a1718"/>
<path d="M156.1 324.9L160.4 329.8L156.1 334.7L151.8 329.8Z" fill="#1a1718"/>
<path d="M186.7 333.4L191.0 338.3L186.7 343.2L182.4 338.3Z" fill="#1a1718"/>
<path d="M214.6 366.5L218.9 371.4L214.6 376.3L210.3 371.4Z" fill="#1a1718"/>
<path d="M245.2 419.5L249.5 424.4L245.2 429.3L240.9 424.4Z" fill="#1a1718"/>
<path d="M273.1 457.3L277.4 462.2L273.1 467.1L268.8 462.2Z" fill="#1a1718"/>
<path d="M303.7 478.1L308.0 483.0L303.7 487.9L299.4 483.0Z" fill="#1a1718"/>
<path d="M331.6 485.6L335.9 490.5L331.6 495.4L327.3 490.5Z" fill="#1a1718"/>
<path d="M214.6 354.0V365.7M210.3 354.0H218.9" stroke="#1a1718" stroke-width="2.1" fill="none"/>
<path d="M245.2 400.7V414.9M240.9 400.7H249.5" stroke="#1a1718" stroke-width="2.1" fill="none"/>
<path d="M273.1 440.1V449.9M268.8 440.1H277.4" stroke="#1a1718" stroke-width="2.1" fill="none"/>
<path d="M303.7 472.4V481.1M299.4 472.4H308.0" stroke="#1a1718" stroke-width="2.1" fill="none"/>
<path d="M331.6 483.0V486.8M327.3 483.0H335.9M327.3 486.8H335.9" stroke="#1a1718" stroke-width="2.1" fill="none"/>
<polyline points="69.7,321.3 97.6,323.2 128.2,326.0 156.1,330.8 186.7,339.3 214.6,365.7 245.2,414.9 273.1,449.9 303.7,481.1 331.6,484.9" fill="none" stroke="#1a1718" stroke-width="2.35" stroke-linejoin="round"/>
<rect x="65.9" y="317.5" width="7.6" height="7.6" fill="#1a1718"/>
<rect x="93.8" y="319.4" width="7.6" height="7.6" fill="#1a1718"/>
<rect x="124.4" y="322.2" width="7.6" height="7.6" fill="#1a1718"/>
<rect x="152.3" y="327.0" width="7.6" height="7.6" fill="#1a1718"/>
<rect x="182.9" y="335.5" width="7.6" height="7.6" fill="#1a1718"/>
<rect x="210.8" y="361.9" width="7.6" height="7.6" fill="#1a1718"/>
<rect x="241.4" y="411.1" width="7.6" height="7.6" fill="#1a1718"/>
<rect x="269.3" y="446.1" width="7.6" height="7.6" fill="#1a1718"/>
<rect x="299.9" y="477.3" width="7.6" height="7.6" fill="#1a1718"/>
<rect x="327.8" y="481.1" width="7.6" height="7.6" fill="#1a1718"/>
<path d="M214.6 365.7V373.3M210.3 365.7H218.9M210.3 373.3H218.9" stroke="#1a1718" stroke-width="2.1" fill="none"/>
<path d="M245.2 420.6V431.9M240.9 420.6H249.5M240.9 431.9H249.5" stroke="#1a1718" stroke-width="2.1" fill="none"/>
<path d="M273.1 464.1V475.4M268.8 464.1H277.4M268.8 475.4H277.4" stroke="#1a1718" stroke-width="2.1" fill="none"/>
<path d="M303.7 479.2V486.8M299.4 479.2H308.0M299.4 486.8H308.0" stroke="#1a1718" stroke-width="2.1" fill="none"/>
<polyline points="69.7,317.5 97.6,317.5 128.2,319.4 156.1,321.3 186.7,330.8 214.6,369.5 245.2,426.3 273.1,469.7 303.7,483.0 331.6,496.2" fill="none" stroke="#1a1718" stroke-width="2.35" stroke-linejoin="round"/>
<circle cx="69.7" cy="317.5" r="3.90" fill="#1a1718"/>
<circle cx="97.6" cy="317.5" r="3.90" fill="#1a1718"/>
<circle cx="128.2" cy="319.4" r="3.90" fill="#1a1718"/>
<circle cx="156.1" cy="321.3" r="3.90" fill="#1a1718"/>
<circle cx="186.7" cy="330.8" r="3.90" fill="#1a1718"/>
<circle cx="214.6" cy="369.5" r="3.90" fill="#1a1718"/>
<circle cx="245.2" cy="426.3" r="3.90" fill="#1a1718"/>
<circle cx="273.1" cy="469.7" r="3.90" fill="#1a1718"/>
<circle cx="303.7" cy="483.0" r="3.90" fill="#1a1718"/>
<circle cx="331.6" cy="496.2" r="3.90" fill="#1a1718"/>
<circle cx="214.6" cy="380.9" r="3.38" fill="#fff" stroke="#1a1718" stroke-width="2.15"/>
<circle cx="245.2" cy="434.6" r="3.38" fill="#fff" stroke="#1a1718" stroke-width="2.15"/>
<circle cx="273.1" cy="476.4" r="3.38" fill="#fff" stroke="#1a1718" stroke-width="2.15"/>
<circle cx="303.7" cy="493.4" r="3.38" fill="#fff" stroke="#1a1718" stroke-width="2.15"/>
<path d="M459.1 309.7V500.8" stroke="#1a1718" stroke-width="2.4" fill="none"/>
<path d="M453.3 310.7H459.1" stroke="#1a1718" stroke-width="2" fill="none"/>
<text x="451.4" y="315.3" text-anchor="end" font-size="12.5" textLength="8.0" lengthAdjust="spacingAndGlyphs">0</text>
<path d="M453.3 348.5H459.1" stroke="#1a1718" stroke-width="2" fill="none"/>
<text x="451.4" y="353.1" text-anchor="end" font-size="12.5" textLength="16.0" lengthAdjust="spacingAndGlyphs">20</text>
<path d="M453.3 386.3H459.1" stroke="#1a1718" stroke-width="2" fill="none"/>
<text x="451.4" y="390.9" text-anchor="end" font-size="12.5" textLength="16.0" lengthAdjust="spacingAndGlyphs">40</text>
<path d="M453.3 424.2H459.1" stroke="#1a1718" stroke-width="2" fill="none"/>
<text x="451.4" y="428.8" text-anchor="end" font-size="12.5" textLength="16.0" lengthAdjust="spacingAndGlyphs">60</text>
<path d="M453.3 462.0H459.1" stroke="#1a1718" stroke-width="2" fill="none"/>
<text x="451.4" y="466.6" text-anchor="end" font-size="12.5" textLength="16.0" lengthAdjust="spacingAndGlyphs">80</text>
<path d="M453.3 499.8H459.1" stroke="#1a1718" stroke-width="2" fill="none"/>
<text x="451.4" y="504.4" text-anchor="end" font-size="12.5" textLength="24.0" lengthAdjust="spacingAndGlyphs">100</text>
<path d="M473.3 516.0H767.8" stroke="#1a1718" stroke-width="2.4" fill="none"/>
<path d="M474.3 516.0V521.2" stroke="#1a1718" stroke-width="2" fill="none"/>
<text x="473.5" y="535.9" text-anchor="middle" font-size="12.5" textLength="42.0" lengthAdjust="spacingAndGlyphs">0.0001</text>
<path d="M532.8 516.0V521.2" stroke="#1a1718" stroke-width="2" fill="none"/>
<text x="532.0" y="535.9" text-anchor="middle" font-size="12.5" textLength="34.5" lengthAdjust="spacingAndGlyphs">0.001</text>
<path d="M591.3 516.0V521.2" stroke="#1a1718" stroke-width="2" fill="none"/>
<text x="591.1" y="535.9" text-anchor="middle" font-size="12.5" textLength="27.0" lengthAdjust="spacingAndGlyphs">0.01</text>
<path d="M649.8 516.0V521.2" stroke="#1a1718" stroke-width="2" fill="none"/>
<text x="648.8" y="535.9" text-anchor="middle" font-size="12.5" textLength="19.5" lengthAdjust="spacingAndGlyphs">0.1</text>
<path d="M708.3 516.0V521.2" stroke="#1a1718" stroke-width="2" fill="none"/>
<text x="708.8" y="535.9" text-anchor="middle" font-size="12.5" textLength="8.0" lengthAdjust="spacingAndGlyphs">1</text>
<path d="M766.8 516.0V521.2" stroke="#1a1718" stroke-width="2" fill="none"/>
<text x="767.3" y="535.9" text-anchor="middle" font-size="12.5" textLength="16.0" lengthAdjust="spacingAndGlyphs">10</text>
<path d="M591.3 348.7V355.1M587.0 348.7H595.6" stroke="#1a1718" stroke-width="2.1" fill="none"/>
<path d="M619.2 385.0V390.7M614.9 385.0H623.5" stroke="#1a1718" stroke-width="2.1" fill="none"/>
<path d="M649.8 430.2V436.5M645.5 430.2H654.1" stroke="#1a1718" stroke-width="2.1" fill="none"/>
<path d="M677.7 459.5V465.8M673.4 459.5H682.0" stroke="#1a1718" stroke-width="2.1" fill="none"/>
<polyline points="474.3,319.2 502.2,320.2 532.8,322.0 560.7,330.7 591.3,355.1 619.2,390.7 649.8,436.5 677.7,465.8 708.3,474.1 736.2,487.9" fill="none" stroke="#1a1718" stroke-width="2.35" stroke-linejoin="round"/>
<circle cx="474.3" cy="319.2" r="3.38" fill="#fff" stroke="#1a1718" stroke-width="2.15"/>
<circle cx="502.2" cy="320.2" r="3.38" fill="#fff" stroke="#1a1718" stroke-width="2.15"/>
<circle cx="532.8" cy="322.0" r="3.38" fill="#fff" stroke="#1a1718" stroke-width="2.15"/>
<circle cx="560.7" cy="330.7" r="3.38" fill="#fff" stroke="#1a1718" stroke-width="2.15"/>
<circle cx="591.3" cy="355.1" r="3.38" fill="#fff" stroke="#1a1718" stroke-width="2.15"/>
<circle cx="619.2" cy="390.7" r="3.38" fill="#fff" stroke="#1a1718" stroke-width="2.15"/>
<circle cx="649.8" cy="436.5" r="3.38" fill="#fff" stroke="#1a1718" stroke-width="2.15"/>
<circle cx="677.7" cy="465.8" r="3.38" fill="#fff" stroke="#1a1718" stroke-width="2.15"/>
<circle cx="708.3" cy="474.1" r="3.38" fill="#fff" stroke="#1a1718" stroke-width="2.15"/>
<circle cx="736.2" cy="487.9" r="3.38" fill="#fff" stroke="#1a1718" stroke-width="2.15"/>
<path d="M502.2 323.0V331.5M497.9 331.5H506.5" stroke="#1a1718" stroke-width="2.1" fill="none"/>
<path d="M532.8 324.9V333.4M528.5 333.4H537.1" stroke="#1a1718" stroke-width="2.1" fill="none"/>
<path d="M560.7 340.6V348.9M556.4 348.9H565.0" stroke="#1a1718" stroke-width="2.1" fill="none"/>
<path d="M591.3 367.2V375.8M587.0 375.8H595.6" stroke="#1a1718" stroke-width="2.1" fill="none"/>
<path d="M619.2 385.8V403.2M614.9 385.8H623.5M614.9 403.2H623.5" stroke="#1a1718" stroke-width="2.1" fill="none"/>
<path d="M649.8 440.0V451.0M645.5 451.0H654.1" stroke="#1a1718" stroke-width="2.1" fill="none"/>
<path d="M677.7 469.4V477.3M673.4 477.3H682.0" stroke="#1a1718" stroke-width="2.1" fill="none"/>
<path d="M708.3 478.1V483.5M704.0 483.5H712.6" stroke="#1a1718" stroke-width="2.1" fill="none"/>
<polyline points="474.3,323.2 502.2,323.0 532.8,324.9 560.7,340.6 591.3,367.2 619.2,394.5 649.8,440.0 677.7,469.4 708.3,478.1 736.2,482.6" fill="none" stroke="#1a1718" stroke-width="2.35" stroke-linejoin="round"/>
<circle cx="474.3" cy="323.2" r="3.90" fill="#1a1718"/>
<circle cx="502.2" cy="323.0" r="3.90" fill="#1a1718"/>
<circle cx="532.8" cy="324.9" r="3.90" fill="#1a1718"/>
<circle cx="560.7" cy="340.6" r="3.90" fill="#1a1718"/>
<circle cx="591.3" cy="367.2" r="3.90" fill="#1a1718"/>
<circle cx="619.2" cy="394.5" r="3.90" fill="#1a1718"/>
<circle cx="649.8" cy="440.0" r="3.90" fill="#1a1718"/>
<circle cx="677.7" cy="469.4" r="3.90" fill="#1a1718"/>
<circle cx="708.3" cy="478.1" r="3.90" fill="#1a1718"/>
<circle cx="736.2" cy="482.6" r="3.90" fill="#1a1718"/>
<path d="M619.2 367.4V378.0M614.9 378.0H623.5" stroke="#1a1718" stroke-width="2.1" fill="none"/>
<path d="M649.8 406.4V414.7M645.5 414.7H654.1" stroke="#1a1718" stroke-width="2.1" fill="none"/>
<path d="M677.7 440.2V452.5M673.4 452.5H682.0" stroke="#1a1718" stroke-width="2.1" fill="none"/>
<polyline points="474.3,319.2 502.2,320.2 532.8,321.1 560.7,323.6 591.3,338.9 619.2,367.4 649.8,406.4 677.7,440.2 708.3,462.4 736.2,477.1" fill="none" stroke="#1a1718" stroke-width="2.35" stroke-linejoin="round"/>
<rect x="470.5" y="315.4" width="7.6" height="7.6" fill="#1a1718"/>
<rect x="498.4" y="316.4" width="7.6" height="7.6" fill="#1a1718"/>
<rect x="529.0" y="317.3" width="7.6" height="7.6" fill="#1a1718"/>
<rect x="556.9" y="319.8" width="7.6" height="7.6" fill="#1a1718"/>
<rect x="587.5" y="335.1" width="7.6" height="7.6" fill="#1a1718"/>
<rect x="615.4" y="363.6" width="7.6" height="7.6" fill="#1a1718"/>
<rect x="646.0" y="402.6" width="7.6" height="7.6" fill="#1a1718"/>
<rect x="673.9" y="436.4" width="7.6" height="7.6" fill="#1a1718"/>
<rect x="704.5" y="458.6" width="7.6" height="7.6" fill="#1a1718"/>
<rect x="732.4" y="473.3" width="7.6" height="7.6" fill="#1a1718"/>
<path d="M619.2 333.6V342.8M614.9 333.6H623.5" stroke="#1a1718" stroke-width="2.1" fill="none"/>
<path d="M649.8 374.2V388.2M645.5 374.2H654.1" stroke="#1a1718" stroke-width="2.1" fill="none"/>
<path d="M677.7 414.1V424.9M673.4 414.1H682.0" stroke="#1a1718" stroke-width="2.1" fill="none"/>
<path d="M708.3 441.2V449.1M704.0 441.2H712.6" stroke="#1a1718" stroke-width="2.1" fill="none"/>
<path d="M736.2 464.4V469.0M731.9 469.0H740.5" stroke="#1a1718" stroke-width="2.1" fill="none"/>
<polyline points="474.3,312.6 502.2,314.9 532.8,316.0 560.7,317.1 591.3,321.7 619.2,342.8 649.8,388.2 677.7,424.9 708.3,449.1 736.2,464.4" fill="none" stroke="#1a1718" stroke-width="2.35" stroke-linejoin="round"/>
<path d="M474.3 308.9L478.5 316.2L470.1 316.2Z" fill="#1a1718"/>
<path d="M502.2 311.2L506.4 318.5L498.0 318.5Z" fill="#1a1718"/>
<path d="M532.8 312.3L537.0 319.6L528.6 319.6Z" fill="#1a1718"/>
<path d="M560.7 313.4L564.9 320.7L556.5 320.7Z" fill="#1a1718"/>
<path d="M591.3 318.0L595.5 325.3L587.1 325.3Z" fill="#1a1718"/>
<path d="M619.2 339.1L623.4 346.4L615.0 346.4Z" fill="#1a1718"/>
<path d="M649.8 384.5L654.0 391.8L645.6 391.8Z" fill="#1a1718"/>
<path d="M677.7 421.2L681.9 428.5L673.5 428.5Z" fill="#1a1718"/>
<path d="M708.3 445.4L712.5 452.7L704.1 452.7Z" fill="#1a1718"/>
<path d="M736.2 460.7L740.4 468.0L732.0 468.0Z" fill="#1a1718"/>
<path d="M649.8 322.6V330.9M645.5 322.6H654.1M645.5 330.9H654.1" stroke="#1a1718" stroke-width="2.1" fill="none"/>
<path d="M677.7 362.9V378.8M673.4 362.9H682.0M673.4 378.8H682.0" stroke="#1a1718" stroke-width="2.1" fill="none"/>
<path d="M708.3 403.2V419.4M704.0 403.2H712.6M704.0 419.4H712.6" stroke="#1a1718" stroke-width="2.1" fill="none"/>
<path d="M736.2 445.3V457.8M731.9 445.3H740.5M731.9 457.8H740.5" stroke="#1a1718" stroke-width="2.1" fill="none"/>
<polyline points="474.3,317.3 502.2,317.3 532.8,316.8 560.7,316.2 591.3,317.7 619.2,318.3 649.8,326.8 677.7,370.8 708.3,411.3 736.2,451.6" fill="none" stroke="#1a1718" stroke-width="2.35" stroke-linejoin="round"/>
<path d="M474.3 312.4L478.6 317.3L474.3 322.2L470.0 317.3Z" fill="#1a1718"/>
<path d="M502.2 312.4L506.5 317.3L502.2 322.2L497.9 317.3Z" fill="#1a1718"/>
<path d="M532.8 311.9L537.1 316.8L532.8 321.7L528.5 316.8Z" fill="#1a1718"/>
<path d="M560.7 311.3L565.0 316.2L560.7 321.1L556.4 316.2Z" fill="#1a1718"/>
<path d="M591.3 312.8L595.6 317.7L591.3 322.6L587.0 317.7Z" fill="#1a1718"/>
<path d="M619.2 313.4L623.5 318.3L619.2 323.2L614.9 318.3Z" fill="#1a1718"/>
<path d="M649.8 321.9L654.1 326.8L649.8 331.7L645.5 326.8Z" fill="#1a1718"/>
<path d="M677.7 365.9L682.0 370.8L677.7 375.7L673.4 370.8Z" fill="#1a1718"/>
<path d="M708.3 406.4L712.6 411.3L708.3 416.2L704.0 411.3Z" fill="#1a1718"/>
<path d="M736.2 446.7L740.5 451.6L736.2 456.5L731.9 451.6Z" fill="#1a1718"/>
<text x="4.9" y="15.5" text-anchor="start" font-size="17" textLength="10.0" lengthAdjust="spacingAndGlyphs">A</text>
<text x="411.4" y="15.6" text-anchor="start" font-size="17" textLength="11.0" lengthAdjust="spacingAndGlyphs">B</text>
<text x="2.7" y="315.1" text-anchor="start" font-size="17" textLength="11.3" lengthAdjust="spacingAndGlyphs">C</text>
<text x="411.0" y="315.1" text-anchor="start" font-size="17" textLength="11.3" lengthAdjust="spacingAndGlyphs">D</text>
<text transform="translate(11.8,110.3) rotate(-90)" text-anchor="middle" font-size="11.6" textLength="90" lengthAdjust="spacingAndGlyphs">Vasodilation (%)</text>
<text transform="translate(10.8,411.9) rotate(-90)" text-anchor="middle" font-size="11.6" textLength="89.5" lengthAdjust="spacingAndGlyphs">Vasodilation (%)</text>
<text x="207.6" y="559.4" text-anchor="middle" font-size="11.6" textLength="124.5" lengthAdjust="spacingAndGlyphs">Acetylcholine (µmol/L)</text>
<text x="624.4" y="559.4" text-anchor="middle" font-size="11.6" textLength="124.5" lengthAdjust="spacingAndGlyphs">Acetylcholine (µmol/L)</text>
<path d="M479.7 114.8H497.3" stroke="#1a1718" stroke-width="2.35" fill="none"/>
<circle cx="488.3" cy="114.8" r="3.52" fill="#fff" stroke="#1a1718" stroke-width="2.24"/>
<text x="503.3" y="119.0" text-anchor="start" font-size="12.2" textLength="42.4" lengthAdjust="spacingAndGlyphs">Solvent</text>
<path d="M479.7 130.5H497.3" stroke="#1a1718" stroke-width="2.35" fill="none"/>
<circle cx="488.3" cy="130.5" r="4.06" fill="#1a1718"/>
<text x="503.3" y="134.7" text-anchor="start" font-size="12.2" textLength="78.8" lengthAdjust="spacingAndGlyphs">BUP 3 µmol/L</text>
<path d="M479.7 146.1H497.3" stroke="#1a1718" stroke-width="2.35" fill="none"/>
<path d="M488.3 142.3L492.7 149.8L483.9 149.8Z" fill="#1a1718"/>
<text x="503.3" y="150.3" text-anchor="start" font-size="12.2" textLength="86.8" lengthAdjust="spacingAndGlyphs">BUP 10 µmol/L</text>
<path d="M479.7 161.8H497.3" stroke="#1a1718" stroke-width="2.35" fill="none"/>
<path d="M488.3 166.1L492.7 158.5L483.9 158.5Z" fill="#1a1718"/>
<text x="503.3" y="166.0" text-anchor="start" font-size="12.2" textLength="86.8" lengthAdjust="spacingAndGlyphs">BUP 30 µmol/L</text>
<path d="M479.7 177.4H497.3" stroke="#1a1718" stroke-width="2.35" fill="none"/>
<path d="M488.3 172.3L492.8 177.4L488.3 182.5L483.8 177.4Z" fill="#1a1718"/>
<text x="503.3" y="181.6" text-anchor="start" font-size="12.2" textLength="94.8" lengthAdjust="spacingAndGlyphs">BUP 100 µmol/L</text>
<path d="M479.7 193.1H497.3" stroke="#1a1718" stroke-width="2.35" fill="none"/>
<rect x="484.3" y="189.1" width="7.9" height="7.9" fill="#1a1718"/>
<text x="503.3" y="197.3" text-anchor="start" font-size="12.2" textLength="94.8" lengthAdjust="spacingAndGlyphs">BUP 300 µmol/L</text>
<path d="M479.7 427.4H497.3" stroke="#1a1718" stroke-width="2.35" fill="none"/>
<circle cx="488.3" cy="427.4" r="3.52" fill="#fff" stroke="#1a1718" stroke-width="2.24"/>
<text x="503.3" y="431.6" text-anchor="start" font-size="12.2" textLength="42.4" lengthAdjust="spacingAndGlyphs">Solvent</text>
<path d="M479.7 443.2H497.3" stroke="#1a1718" stroke-width="2.35" fill="none"/>
<circle cx="488.3" cy="443.2" r="4.06" fill="#1a1718"/>
<text x="503.3" y="447.4" text-anchor="start" font-size="12.2" textLength="79.4" lengthAdjust="spacingAndGlyphs">BUP 1 µmol/L</text>
<path d="M479.7 458.7H497.3" stroke="#1a1718" stroke-width="2.35" fill="none"/>
<rect x="484.3" y="454.7" width="7.9" height="7.9" fill="#1a1718"/>
<text x="503.3" y="462.9" text-anchor="start" font-size="12.2" textLength="79.4" lengthAdjust="spacingAndGlyphs">BUP 3 µmol/L</text>
<path d="M479.7 474.2H497.3" stroke="#1a1718" stroke-width="2.35" fill="none"/>
<path d="M488.3 470.4L492.7 477.9L483.9 477.9Z" fill="#1a1718"/>
<text x="503.3" y="478.4" text-anchor="start" font-size="12.2" textLength="86.8" lengthAdjust="spacingAndGlyphs">BUP 10 µmol/L</text>
<path d="M479.7 490.0H497.3" stroke="#1a1718" stroke-width="2.35" fill="none"/>
<path d="M488.3 484.9L492.8 490.0L488.3 495.1L483.8 490.0Z" fill="#1a1718"/>
<text x="503.3" y="494.2" text-anchor="start" font-size="12.2" textLength="94.8" lengthAdjust="spacingAndGlyphs">BUP 300 µmol/L</text>
<text x="590.6" y="25.3" text-anchor="middle" font-size="13.2" textLength="6.4" lengthAdjust="spacingAndGlyphs">c</text>
<text x="617.3" y="30.8" text-anchor="middle" font-size="13.2" textLength="10.4" lengthAdjust="spacingAndGlyphs">cf</text>
<text x="649.2" y="26.0" text-anchor="middle" font-size="13.2" textLength="10.4" lengthAdjust="spacingAndGlyphs">cf</text>
<text x="619.2" y="49.9" text-anchor="middle" font-size="13.2" textLength="6.4" lengthAdjust="spacingAndGlyphs">c</text>
<text x="645.4" y="55.7" text-anchor="middle" font-size="13.2" textLength="10.4" lengthAdjust="spacingAndGlyphs">cf</text>
<text x="678.1" y="56.8" text-anchor="middle" font-size="13.2" textLength="10.4" lengthAdjust="spacingAndGlyphs">cf</text>
<text x="653.4" y="100.8" text-anchor="middle" font-size="13.2" textLength="13.0" lengthAdjust="spacingAndGlyphs">ce</text>
<text x="677.4" y="122.5" text-anchor="middle" font-size="13.2" textLength="10.4" lengthAdjust="spacingAndGlyphs">cf</text>
<text x="708.9" y="91.7" text-anchor="middle" font-size="13.2" textLength="10.4" lengthAdjust="spacingAndGlyphs">cf</text>
<text x="736.3" y="126.3" text-anchor="middle" font-size="13.2" textLength="10.4" lengthAdjust="spacingAndGlyphs">cf</text>
<text x="678.9" y="144.4" text-anchor="middle" font-size="13.2" textLength="6.4" lengthAdjust="spacingAndGlyphs">c</text>
<text x="708.6" y="146.4" text-anchor="middle" font-size="13.2" textLength="10.4" lengthAdjust="spacingAndGlyphs">cf</text>
<text x="736.3" y="161.5" text-anchor="middle" font-size="13.2" textLength="6.4" lengthAdjust="spacingAndGlyphs">c</text>
<text x="716.9" y="173.7" text-anchor="middle" font-size="13.2" textLength="6.8" lengthAdjust="spacingAndGlyphs">b</text>
<text x="618.9" y="310.9" text-anchor="middle" font-size="13.2" textLength="6.4" lengthAdjust="spacingAndGlyphs">c</text>
<text x="650.8" y="318.1" text-anchor="middle" font-size="13.2" textLength="10.4" lengthAdjust="spacingAndGlyphs">cf</text>
<text x="618.1" y="361.2" text-anchor="middle" font-size="13.2" textLength="6.4" lengthAdjust="spacingAndGlyphs">c</text>
<text x="650.8" y="370.8" text-anchor="middle" font-size="13.2" textLength="6.4" lengthAdjust="spacingAndGlyphs">c</text>
<text x="678.5" y="359.5" text-anchor="middle" font-size="13.2" textLength="10.4" lengthAdjust="spacingAndGlyphs">cf</text>
<text x="678.1" y="410.1" text-anchor="middle" font-size="13.2" textLength="6.4" lengthAdjust="spacingAndGlyphs">c</text>
<text x="708.5" y="399.0" text-anchor="middle" font-size="13.2" textLength="10.4" lengthAdjust="spacingAndGlyphs">cf</text>
<text x="650.1" y="427.6" text-anchor="middle" font-size="13.2" textLength="6.8" lengthAdjust="spacingAndGlyphs">b</text>
<text x="736.5" y="440.7" text-anchor="middle" font-size="13.2" textLength="6.4" lengthAdjust="spacingAndGlyphs">c</text>
</g>
</svg>
</body></html>
